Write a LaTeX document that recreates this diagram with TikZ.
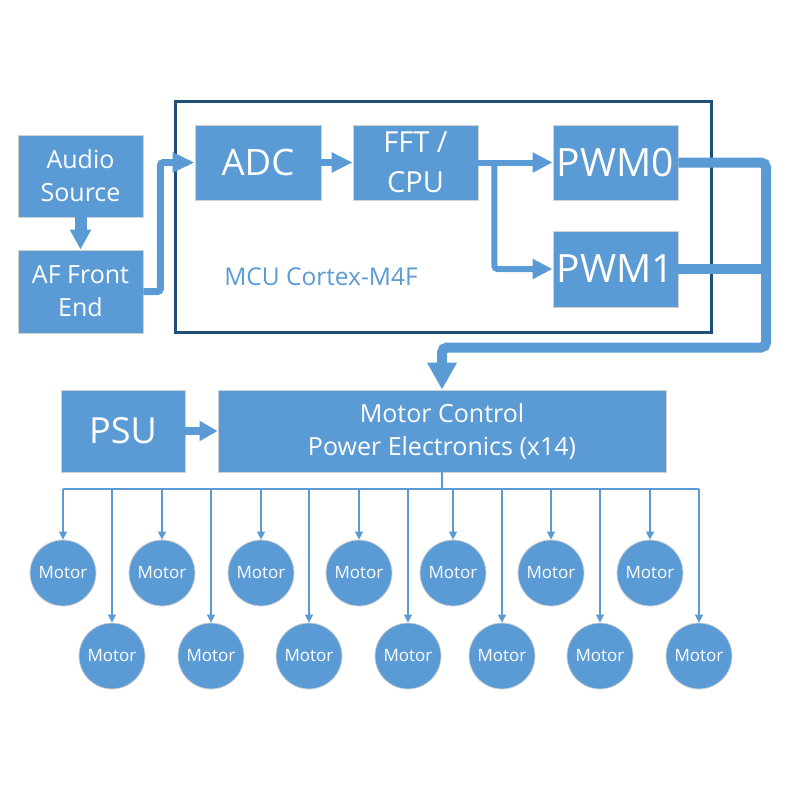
\documentclass[tikz,border=0pt]{standalone}
\usepackage{fontspec}
\setmainfont{Open Sans}
\usepackage{tikz}
\usetikzlibrary{calc,arrows.meta}
\definecolor{boxblue}{RGB}{91,155,213}
\definecolor{mcuframe}{RGB}{31,78,121}

\begin{document}
\begin{tikzpicture}[x=1pt,y=-1pt,
	every node/.style={inner sep=0pt,text=white,align=center},
	blk/.style={fill=boxblue,draw=black!18,line width=0.8pt},
	motor/.style={circle,fill=boxblue,draw=black!18,line width=0.8pt,minimum size=66pt,font=\fontsize{17}{19}\selectfont},
	flow/.style={draw=boxblue,line width=7pt,rounded corners=3pt},
	wide/.style={draw=boxblue,line width=10pt,rounded corners=5pt},
	tap/.style={draw=boxblue,line width=1.5pt,-{Triangle[length=8pt,width=8pt]}}]
			\useasboundingbox (0,0) rectangle (800,800);
			\def\mid{\fontsize{25}{33}\selectfont}
			\def\big{\fontsize{39}{40}\selectfont}
			
			% MCU frame and its label
			\draw[mcuframe,line width=3pt] (175,101) rectangle (711,332);
			\node[text=boxblue,font=\fontsize{24.5}{26}\selectfont] (mcu) at (321,277) {MCU Cortex-M4F};
			
			% Signal chain
			\node[blk,minimum width=125pt,minimum height=82pt,font=\mid] (src) at (80.5,176) {Audio\\Source};
			\node[blk,minimum width=125pt,minimum height=83pt,font=\mid] (afe) at (80.5,291.5) {AF Front\\End};
			\node[blk,minimum width=126pt,minimum height=75pt,font=\fontsize{36.5}{38}\selectfont] (adc) at (258,162.5) {ADC};
			\node[blk,minimum width=125pt,minimum height=75pt,font=\fontsize{29}{40}\selectfont] (fft) at (415.5,162.5) {FFT /\\CPU};
			\node[blk,minimum width=125pt,minimum height=75pt,font=\big] (pwm0) at (615.5,162.5) {PWM0};
			\node[blk,minimum width=125pt,minimum height=76pt,font=\big] (pwm1) at (615.5,269) {PWM1};
			
			% Power stage
			\node[blk,minimum width=124pt,minimum height=82pt,font=\fontsize{36}{38}\selectfont] (psu) at (123,431) {PSU};
			\node[blk,minimum width=448pt,minimum height=82pt,font=\mid] (mc) at (442,431) {Motor Control\\Power Electronics (x14)};
			
			% Connectors
			\draw[boxblue,line width=12pt,-{Triangle[length=20pt,width=20pt]}] (src.south) -- (afe.north);
			\draw[flow,-{Triangle[length=22pt,width=19pt]}] (afe.east) -- ++(17,0) |- (adc.west);
			\draw[flow,-{Triangle[length=21pt,width=19pt]}] (adc.east) -- (fft.west);
			\coordinate (split) at ($(fft.east)+(16,0)$);
			\draw[flow,line width=6pt,-{Triangle[length=20pt,width=19pt]}] (fft.east) -- (pwm0.west);
			\draw[flow,line width=6pt,-{Triangle[length=20pt,width=19pt]}] (split) |- (pwm1.west);
			\coordinate (ret) at (766,347.5);
			\draw[wide,-{Triangle[length=27pt,width=28pt]}] (pwm0.east) -| (ret) -| (mc.north);
			\draw[wide] (pwm1.east) -- (pwm1.east -| ret);
			\draw[boxblue,line width=8pt,-{Triangle[length=18pt,width=19pt]}] (psu.east) -- (mc.west);
			
			% Motors on the output bus
			\coordinate (busL) at (63,489);
			\coordinate (busR) at (699,489);
			\draw[boxblue,line width=2pt] (mc.south) -- (mc.south |- busL);
			\draw[boxblue,line width=1.5pt] (busL) -- (busR);
			\foreach \i/\mx in {1/63,2/162,3/261,4/359,5/453,6/551,7/650}
			{
				\node[motor] (t\i) at (\mx,573) {Motor};
				\draw[tap] (t\i.north |- busL) -- (t\i.north);
			}
			\foreach \i/\mx in {1/112,2/211,3/309,4/408,5/502,6/600,7/699}
			{
				\node[motor] (b\i) at (\mx,656) {Motor};
				\draw[tap] (b\i.north |- busL) -- (b\i.north);
			}
\end{tikzpicture}
\end{document}
